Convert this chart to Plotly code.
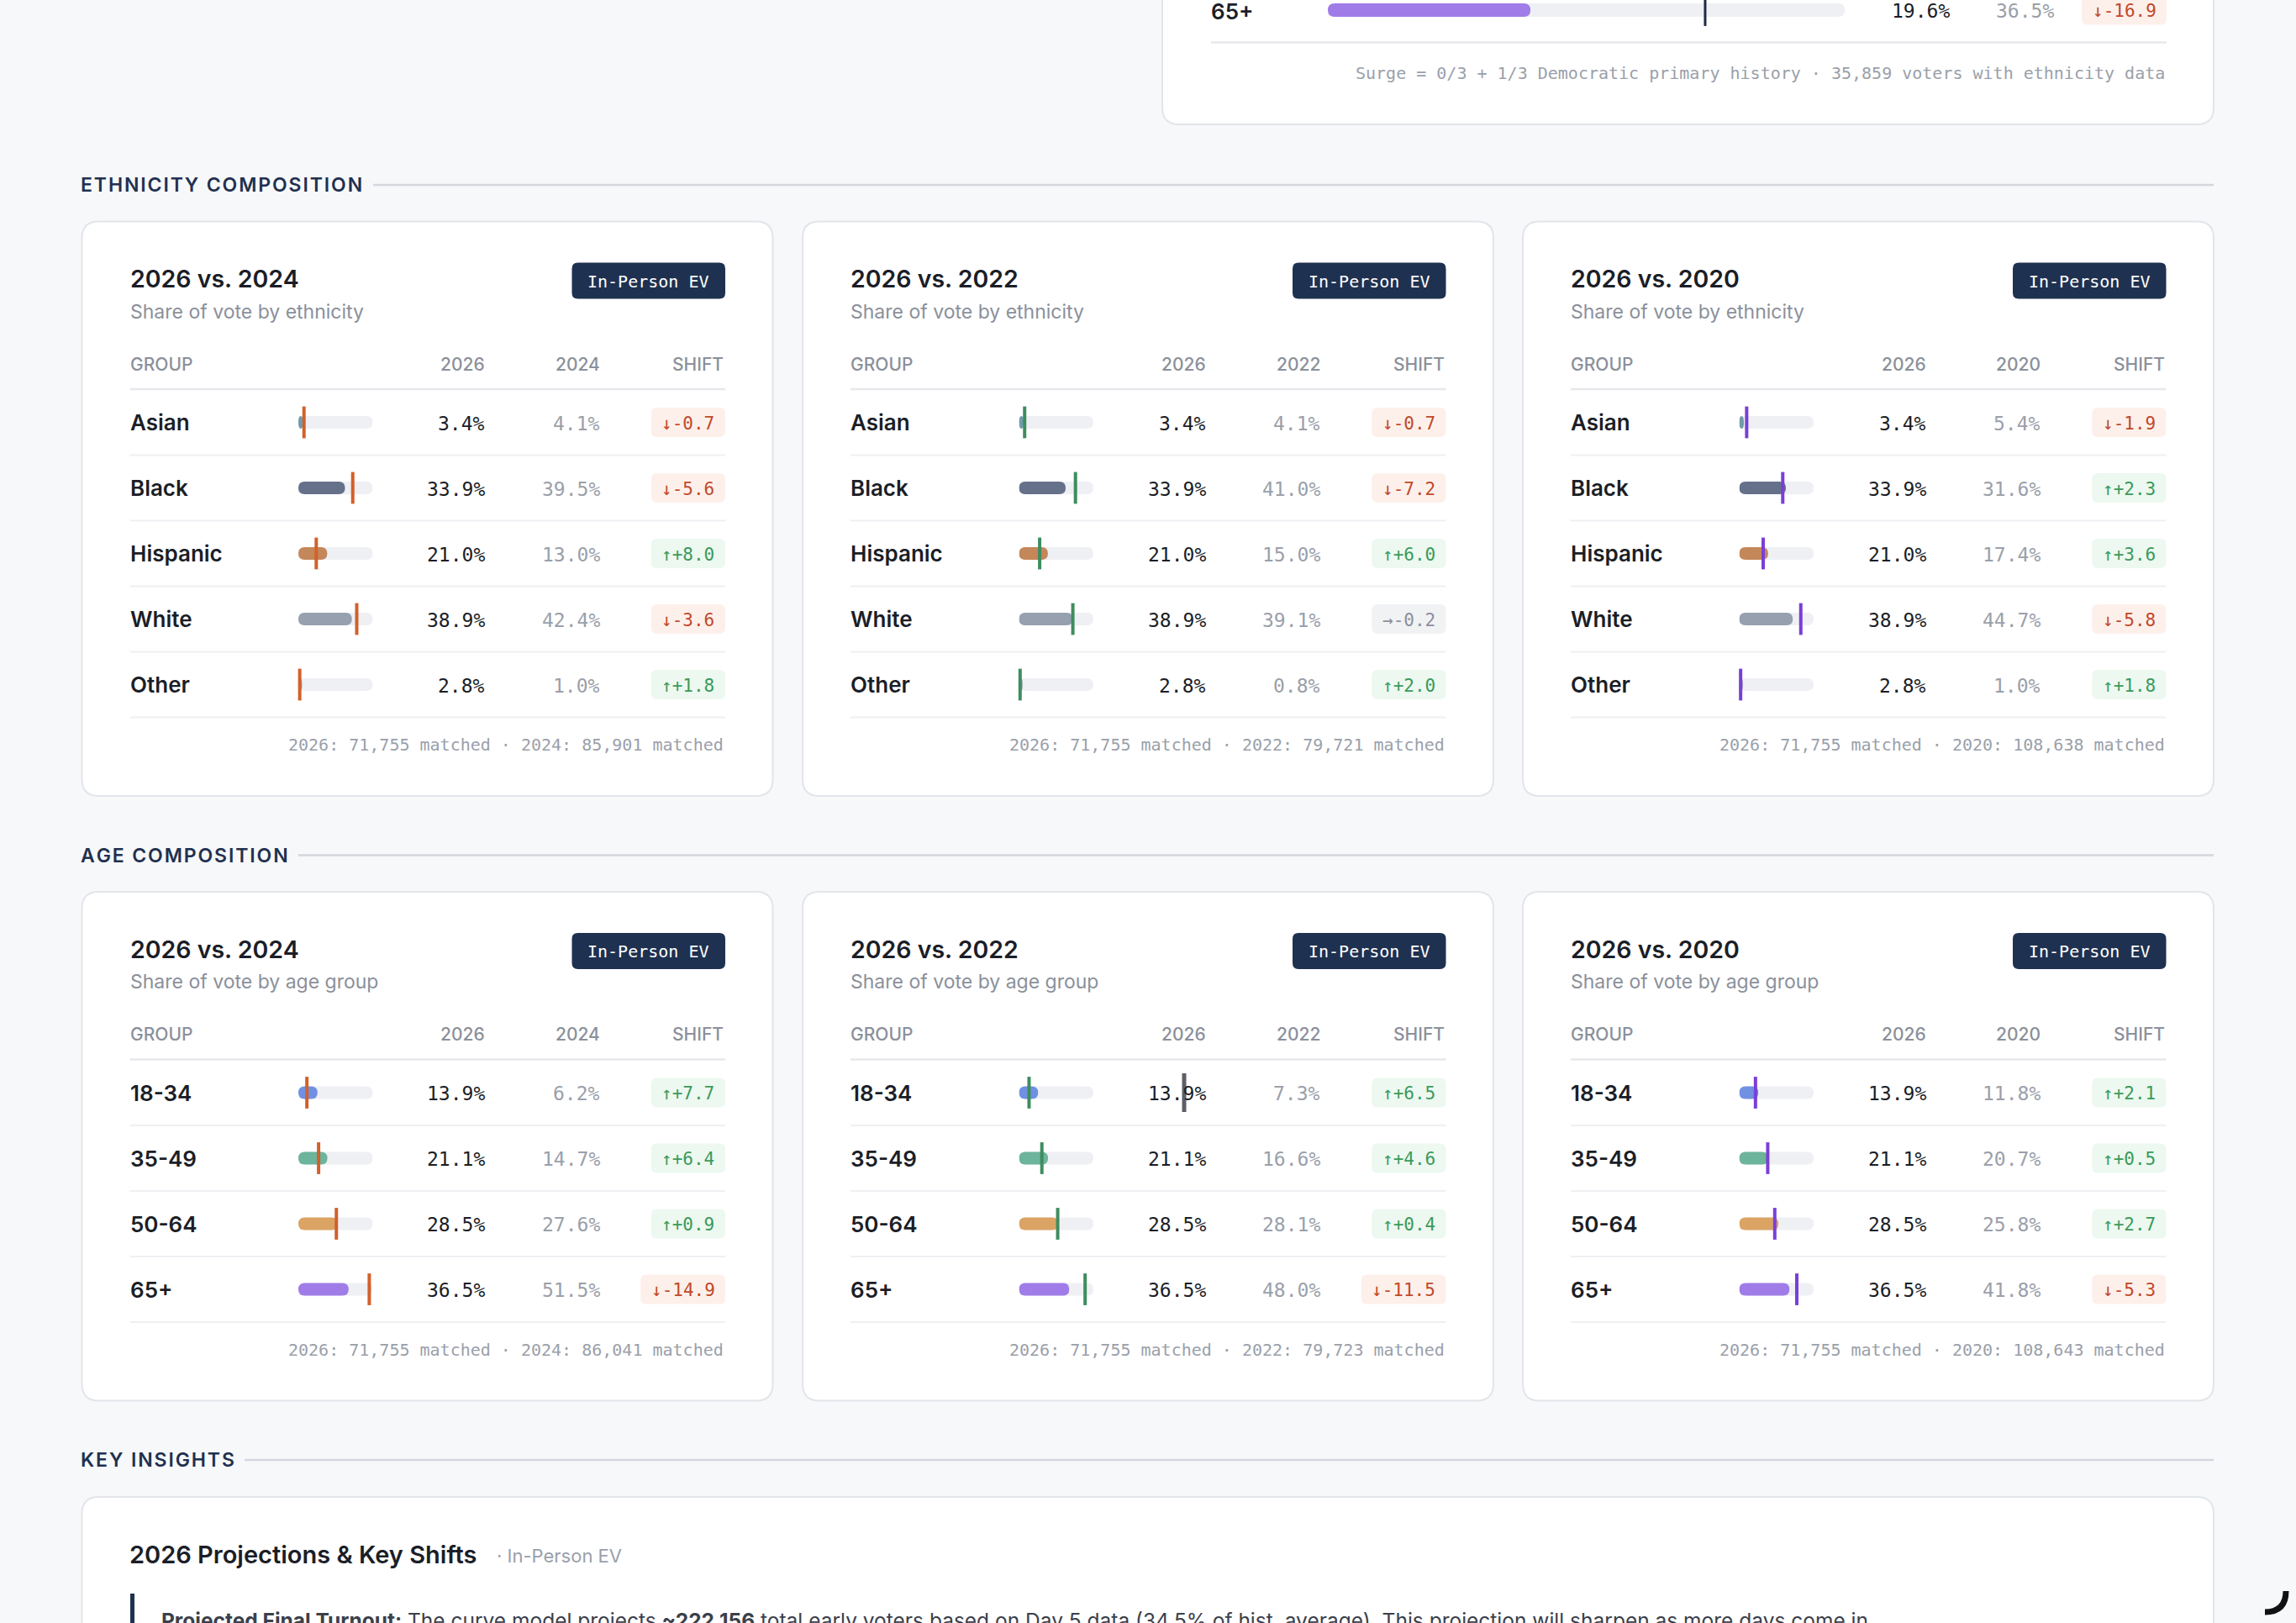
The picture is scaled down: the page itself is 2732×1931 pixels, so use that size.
import plotly.graph_objects as go

W, H = 2732, 1931

# ---------------- data ----------------
eth_groups = ["Asian", "Black", "Hispanic", "White", "Other"]
eth_2026 = [3.4, 33.9, 21.0, 38.9, 2.8]
eth_2024 = [4.1, 39.5, 13.0, 42.4, 1.0]
eth_shift_2024 = [-0.7, -5.6, 8.0, -3.6, 1.8]
eth_2022 = [4.1, 41.0, 15.0, 39.1, 0.8]
eth_shift_2022 = [-0.7, -7.2, 6.0, -0.2, 2.0]
eth_2020 = [5.4, 31.6, 17.4, 44.7, 1.0]
eth_shift_2020 = [-1.9, 2.3, 3.6, -5.8, 1.8]

age_groups = ["18-34", "35-49", "50-64", "65+"]
age_2026 = [13.9, 21.1, 28.5, 36.5]
age_2024 = [6.2, 14.7, 27.6, 51.5]
age_shift_2024 = [7.7, 6.4, 0.9, -14.9]
age_2022 = [7.3, 16.6, 28.1, 48.0]
age_shift_2022 = [6.5, 4.6, 0.4, -11.5]
age_2020 = [11.8, 20.7, 25.8, 41.8]
age_shift_2020 = [2.1, 0.5, 2.7, -5.3]

matched_2026 = "71,755"
eth_matched = {2024: "85,901", 2022: "79,721", 2020: "108,638"}
age_matched = {2024: "86,041", 2022: "79,723", 2020: "108,643"}

surge_group = "65+"
surge_share = 19.6
surge_base = 36.5
surge_shift = -16.9
surge_note = "Surge = 0/3 + 1/3 Democratic primary history · 35,859 voters with ethnicity data"

insight_title = "2026 Projections & Key Shifts"
insight_tag = "· In-Person EV"
insight_text = ("<b>Projected Final Turnout:</b> The curve model projects <b>~222,156</b> total early voters "
                "based on Day 5 data (34.5% of hist. average). This projection will sharpen as more days come in.")

# ---------------- style ----------------
SANS = "Inter, Noto Sans, sans-serif"
MONO = "DejaVu Sans Mono, monospace"
BG = "#f7f8fa"
INK = "#1b1e27"
MUTED = "#8b909a"
NAVY = "#1f3150"
TRACK = "#eef0f4"
SCALE = 54

eth_colors = ["#6f9caa", "#65718a", "#c4875a", "#96a0af", "#a9b0bb"]
age_colors = ["#7090e2", "#6cb49b", "#dba464", "#a07ce8"]
year_colors = {2024: "#d2602b", 2022: "#3e8d5f", 2020: "#7a3fd6"}

fig = go.Figure()
shapes, annos = [], []
axis_n = [1]


def rrect(x0, y0, x1, y1, r):
    r = min(r, (x1 - x0) / 2, (y1 - y0) / 2)
    return (f"M{x0+r},{y0} L{x1-r},{y0} Q{x1},{y0} {x1},{y0+r} L{x1},{y1-r} Q{x1},{y1} {x1-r},{y1} "
            f"L{x0+r},{y1} Q{x0},{y1} {x0},{y1-r} L{x0},{y0+r} Q{x0},{y0} {x0+r},{y0} Z")


def box(x0, y0, x1, y1, r, fill, line=None, lw=0, layer="below"):
    shapes.append(dict(type="path", path=rrect(x0, y0, x1, y1, r), xref="x", yref="y",
                       fillcolor=fill, line=dict(color=line or fill, width=lw), layer=layer))


def hline(x0, x1, y, color, w=2):
    shapes.append(dict(type="line", x0=x0, x1=x1, y0=y, y1=y, xref="x", yref="y",
                       line=dict(color=color, width=w), layer="below"))


def txt(x, y, s, size, color, anchor="left", family=SANS, weight=400, yanchor="middle"):
    annos.append(dict(x=x, y=y, xref="x", yref="y", text=s, showarrow=False,
                      xanchor=anchor, yanchor=yanchor,
                      font=dict(family=family, size=size, color=color, weight=weight)))


def spaced(s):
    # poor man's letter-spacing
    return "\u200a".join(s)


def shift_badge(xr, y, v):
    if abs(v) < 0.3:
        s, bg, fg = f"→{v:+.1f}", "#f1f2f4", MUTED
    elif v < 0:
        s, bg, fg = f"↓{v:+.1f}", "#fdf0eb", "#c0492a"
    else:
        s, bg, fg = f"↑{v:+.1f}", "#ecf8f0", "#3a9a5a"
    w = len(s) * 0.602 * 21 + 25
    box(xr - w, y - 17.5, xr, y + 17.5, 7, bg)
    txt(xr - w / 2, y + 1, s, 21, fg, "center", MONO)


def pill(xa, a, b, yc, thick, color, rx):
    # rounded bar in axis units: x on the mini axis, y in pixels
    ry = thick / 2
    rx = min(rx, (b - a) / 2)
    y0, y1 = yc - ry, yc + ry
    path = (f"M{a+rx},{y0} L{b-rx},{y0} Q{b},{y0} {b},{yc} Q{b},{y1} {b-rx},{y1} "
            f"L{a+rx},{y1} Q{a},{y1} {a},{yc} Q{a},{y0} {a+rx},{y0} Z")
    shapes.append(dict(type="path", path=path, xref=xa, yref="y", fillcolor=color,
                       line=dict(width=0), layer="below"))


def mini_bars(x0, x1, ys, values, refs, colors, ref_color, scale, thick, mk_size, mk_w):
    axis_n[0] += 1
    n = axis_n[0]
    xa = f"x{n}"
    fig.update_layout(**{f"xaxis{n}": dict(domain=[x0 / W, x1 / W], range=[0, scale],
                                          visible=False, anchor="y", fixedrange=True)})
    rx = (thick / 2) * scale / (x1 - x0)
    for y, v, c in zip(ys, values, colors):
        pill(xa, 0, scale, y, thick, TRACK, rx)
        pill(xa, 0, v, y, thick, c, rx)
    fig.add_trace(go.Scatter(x=refs, y=ys, mode="markers", cliponaxis=False,
                             marker=dict(symbol="line-ns", size=mk_size, color=ref_color,
                                         line=dict(color=ref_color, width=mk_w)),
                             xaxis=xa, yaxis="y", hoverinfo="skip"))


def card(L, T, title, subtitle, year, groups, cur, prev, shift, colors, matched):
    R = L + 822
    cl, cr = L + 55, L + 765.5
    rows = [T + 239 + i * 78 for i in range(len(groups))]
    last_sep = rows[-1] + 39
    footer = last_sep + 32.5
    B = footer + 61
    box(L, T, R, B, 20, "white", "#e2e5ea", 2)
    txt(cl, T + 68, title, 28.5, INK, weight=600)
    txt(cl, T + 107, subtitle, 23, MUTED)
    box(L + 583, T + 49, cr, T + 92, 7, NAVY)
    txt((L + 583 + cr) / 2, T + 71, "In-Person EV", 20, "white", "center", MONO, 500)
    hy = T + 169.5
    txt(cl, hy, "GROUP", 21, MUTED, weight=500)
    txt(L + 481.5, hy, "2026", 21, MUTED, "right", weight=500)
    txt(L + 618, hy, str(year), 21, MUTED, "right", weight=500)
    txt(cr, hy, "SHIFT", 21, MUTED, "right", weight=500)
    hline(cl + 2, cr, T + 199.5, "#e6e8ec", 2.5)
    for i, g in enumerate(groups):
        y = rows[i]
        txt(cl, y, g, 26, INK, weight=600)
        txt(L + 481.5, y + 1, f"{cur[i]:.1f}%", 23, INK, "right", MONO)
        txt(L + 618, y + 1, f"{prev[i]:.1f}%", 23, "#9aa0aa", "right", MONO)
        shift_badge(cr, y, shift[i])
        hline(cl + 2, cr, y + 39, "#eff0f3", 2)
    mini_bars(L + 257.5, L + 346, rows, cur, prev, colors, year_colors[year], SCALE, 15, 27, 4)
    txt(cr, footer, f"2026: {matched_2026} matched · {year}: {matched} matched", 20, "#9aa0aa",
        "right", MONO)


def section(y, label, line_x0):
    txt(94, y, spaced(label), 23, NAVY, weight=600)
    hline(line_x0, 2634, y, "#d3d7dd", 2.5)


# ---------------- top (partial) card ----------------
box(1383, -80, 2634, 148, 20, "white", "#e2e5ea", 2)
txt(1439, 13, surge_group, 26, INK, weight=600)
mini_bars(1580, 2195, [12], [surge_share], [surge_base], ["#a07ce8"], "#1f2a44", 50, 16, 27, 3)
txt(2322, 13, f"{surge_share:.1f}%", 23, INK, "right", MONO)
txt(2446, 13, f"{surge_base:.1f}%", 23, "#9aa0aa", "right", MONO)
shift_badge(2578, 12, surge_shift)
hline(1441, 2578, 50.5, "#e6e8ec", 2.5)
txt(2578, 87, surge_note, 20, "#9aa0aa", "right", MONO)

# ---------------- ethnicity ----------------
section(220, "ETHNICITY COMPOSITION", 444)
lefts = [97.5, 955, 1812]
eth_sets = [(2024, eth_2024, eth_shift_2024), (2022, eth_2022, eth_shift_2022),
            (2020, eth_2020, eth_shift_2020)]
for L, (yr, prev, sh) in zip(lefts, eth_sets):
    card(L, 263.5, f"2026 vs. {yr}", "Share of vote by ethnicity", yr, eth_groups,
         eth_2026, prev, sh, eth_colors, eth_matched[yr])

# ---------------- age ----------------
section(1017.5, "AGE COMPOSITION", 355)
age_sets = [(2024, age_2024, age_shift_2024), (2022, age_2022, age_shift_2022),
            (2020, age_2020, age_shift_2020)]
for L, (yr, prev, sh) in zip(lefts, age_sets):
    card(L, 1061, f"2026 vs. {yr}", "Share of vote by age group", yr, age_groups,
         age_2026, prev, sh, age_colors, age_matched[yr])

# text cursor visible in the screenshot
shapes.append(dict(type="rect", x0=1406.5, x1=1411.5, y0=1277, y1=1323, xref="x", yref="y",
                   fillcolor="#5c5f66", line=dict(width=0), layer="above"))

# ---------------- key insights ----------------
section(1737, "KEY INSIGHTS", 291)
box(97.5, 1781, 2634, 2150, 20, "white", "#e2e5ea", 2)
txt(152, 1849, insight_title, 29, INK, weight=600)
txt(589, 1851, insight_tag, 22, "#9aa0aa")
shapes.append(dict(type="rect", x0=155, x1=160, y0=1896, y1=1990, xref="x", yref="y",
                   fillcolor=NAVY, line=dict(width=0), layer="below"))
txt(190, 1911, insight_text, 24.5, "#3b404b", yanchor="top")

# loading spinner in corner
shapes.append(dict(type="path", path="M2720,1893 Q2720,1918 2695,1918", xref="x", yref="y",
                   fillcolor="rgba(0,0,0,0)", line=dict(color="#111111", width=7), layer="above"))

fig.update_layout(
    width=W, height=H,
    margin=dict(l=0, r=0, t=0, b=0),
    paper_bgcolor=BG, plot_bgcolor="rgba(0,0,0,0)",
    xaxis=dict(range=[0, W], visible=False, fixedrange=True, domain=[0, 1]),
    yaxis=dict(range=[H, 0], visible=False, fixedrange=True, domain=[0, 1]),
    showlegend=False, hovermode=False,
    shapes=shapes, annotations=annos,
)

fig.write_html("out.html", config={"displayModeBar": False},
               post_script="document.body.style.margin='0';document.body.style.overflow='hidden';")
